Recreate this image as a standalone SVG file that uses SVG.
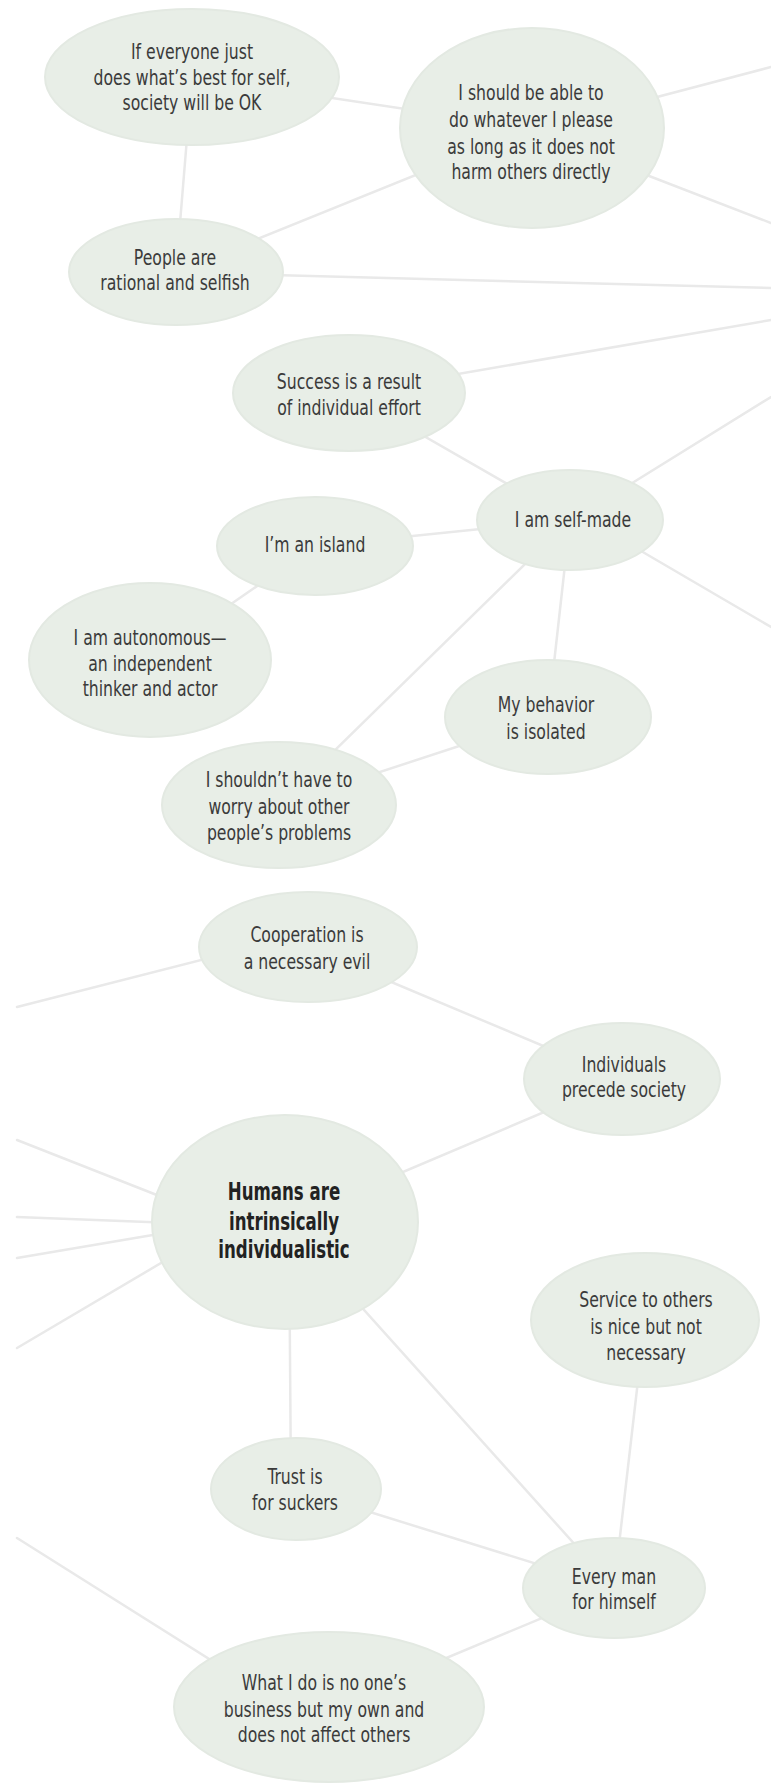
<svg xmlns="http://www.w3.org/2000/svg" width="771" height="1783" viewBox="0 0 771 1783">
<style>
.n{fill:#e8eee7;stroke:#e3e9e2;stroke-width:2}
.t{font-family:"Liberation Sans Narrow","DejaVu Sans Condensed","Liberation Sans",sans-serif;font-stretch:condensed;font-size:21px;fill:#3b3b3b;text-anchor:middle}
.b{font-weight:bold;font-size:24px;fill:#222}
.c line{stroke:#e9e9e9;stroke-width:2.5;stroke-linecap:round}
</style>
<rect width="771" height="1783" fill="#fff"/>
<g class="c" id="connectors">
<line x1="192" y1="77" x2="532" y2="128"/>
<line x1="192" y1="77" x2="176" y2="272"/>
<line x1="176" y1="272" x2="532" y2="128"/>
<line x1="600" y1="112" x2="771" y2="67"/>
<line x1="600" y1="157" x2="771" y2="223"/>
<line x1="230" y1="274" x2="771" y2="288"/>
<line x1="400" y1="384" x2="771" y2="320"/>
<line x1="349" y1="393" x2="570" y2="520"/>
<line x1="600" y1="503" x2="771" y2="397"/>
<line x1="315" y1="546" x2="570" y2="520"/>
<line x1="315" y1="546" x2="150" y2="660"/>
<line x1="570" y1="520" x2="279" y2="805"/>
<line x1="570" y1="520" x2="548" y2="717"/>
<line x1="600" y1="527" x2="771" y2="627"/>
<line x1="279" y1="805" x2="548" y2="717"/>
<line x1="260" y1="945" x2="17" y2="1007"/>
<line x1="308" y1="947" x2="622" y2="1079"/>
<line x1="622" y1="1079" x2="285" y2="1222"/>
<line x1="200" y1="1212" x2="17" y2="1140"/>
<line x1="200" y1="1224" x2="17" y2="1217"/>
<line x1="200" y1="1227" x2="17" y2="1258"/>
<line x1="200" y1="1240" x2="17" y2="1348"/>
<line x1="289" y1="1222" x2="291" y2="1489"/>
<line x1="285" y1="1222" x2="614" y2="1588"/>
<line x1="645" y1="1320" x2="614" y2="1588"/>
<line x1="296" y1="1489" x2="614" y2="1588"/>
<line x1="260" y1="1691" x2="17" y2="1538"/>
<line x1="329" y1="1707" x2="614" y2="1588"/>
</g>
<g id="n1"><ellipse class="n" cx="192" cy="77" rx="147" ry="68"/>
<g transform="translate(192 0) scale(0.83 1)"><text class="t" x="0" y="59">If everyone just</text><text class="t" x="0" y="85">does what’s best for self,</text><text class="t" x="0" y="110">society will be OK</text></g></g>
<g id="n2"><ellipse class="n" cx="532" cy="128" rx="132" ry="100"/>
<g transform="translate(531 0) scale(0.83 1)"><text class="t" x="0" y="100">I should be able to</text><text class="t" x="0" y="127">do whatever I please</text><text class="t" x="0" y="154">as long as it does not</text><text class="t" x="0" y="179">harm others directly</text></g></g>
<g id="n3"><ellipse class="n" cx="176" cy="272" rx="107" ry="53"/>
<g transform="translate(175 0) scale(0.83 1)"><text class="t" x="0" y="265">People are</text><text class="t" x="0" y="290">rational and selfish</text></g></g>
<g id="n4"><ellipse class="n" cx="349" cy="393" rx="116" ry="58"/>
<g transform="translate(349 0) scale(0.83 1)"><text class="t" x="0" y="389">Success is a result</text><text class="t" x="0" y="415">of individual effort</text></g></g>
<g id="n5"><ellipse class="n" cx="570" cy="520" rx="93" ry="50"/>
<g transform="translate(573 0) scale(0.83 1)"><text class="t" x="0" y="527">I am self-made</text></g></g>
<g id="n6"><ellipse class="n" cx="315" cy="546" rx="98" ry="49"/>
<g transform="translate(315 0) scale(0.83 1)"><text class="t" x="0" y="552">I’m an island</text></g></g>
<g id="n7"><ellipse class="n" cx="150" cy="660" rx="121" ry="77"/>
<g transform="translate(150 0) scale(0.83 1)"><text class="t" x="0" y="645">I am autonomous—</text><text class="t" x="0" y="671">an independent</text><text class="t" x="0" y="696">thinker and actor</text></g></g>
<g id="n8"><ellipse class="n" cx="548" cy="717" rx="103" ry="57"/>
<g transform="translate(546 0) scale(0.83 1)"><text class="t" x="0" y="712">My behavior</text><text class="t" x="0" y="739">is isolated</text></g></g>
<g id="n9"><ellipse class="n" cx="279" cy="805" rx="117" ry="63"/>
<g transform="translate(279 0) scale(0.83 1)"><text class="t" x="0" y="787">I shouldn’t have to</text><text class="t" x="0" y="814">worry about other</text><text class="t" x="0" y="840">people’s problems</text></g></g>
<g id="n10"><ellipse class="n" cx="308" cy="947" rx="109" ry="55"/>
<g transform="translate(307 0) scale(0.83 1)"><text class="t" x="0" y="942">Cooperation is</text><text class="t" x="0" y="969">a necessary evil</text></g></g>
<g id="n11"><ellipse class="n" cx="622" cy="1079" rx="98" ry="56"/>
<g transform="translate(624 0) scale(0.83 1)"><text class="t" x="0" y="1072">Individuals</text><text class="t" x="0" y="1097">precede society</text></g></g>
<g id="n12"><ellipse class="n" cx="285" cy="1222" rx="133" ry="107"/>
<g transform="translate(284 0) scale(0.77 1)"><text class="t b" x="0" y="1200">Humans are</text><text class="t b" x="0" y="1230">intrinsically</text><text class="t b" x="0" y="1258">individualistic</text></g></g>
<g id="n13"><ellipse class="n" cx="645" cy="1320" rx="114" ry="67"/>
<g transform="translate(646 0) scale(0.83 1)"><text class="t" x="0" y="1307">Service to others</text><text class="t" x="0" y="1334">is nice but not</text><text class="t" x="0" y="1360">necessary</text></g></g>
<g id="n14"><ellipse class="n" cx="296" cy="1489" rx="85" ry="51"/>
<g transform="translate(295 0) scale(0.83 1)"><text class="t" x="0" y="1484">Trust is</text><text class="t" x="0" y="1510">for suckers</text></g></g>
<g id="n15"><ellipse class="n" cx="329" cy="1707" rx="155" ry="75"/>
<g transform="translate(324 0) scale(0.83 1)"><text class="t" x="0" y="1690">What I do is no one’s</text><text class="t" x="0" y="1717">business but my own and</text><text class="t" x="0" y="1742">does not affect others</text></g></g>
<g id="n16"><ellipse class="n" cx="614" cy="1588" rx="91" ry="50"/>
<g transform="translate(614 0) scale(0.83 1)"><text class="t" x="0" y="1584">Every man</text><text class="t" x="0" y="1609">for himself</text></g></g>
</svg>
